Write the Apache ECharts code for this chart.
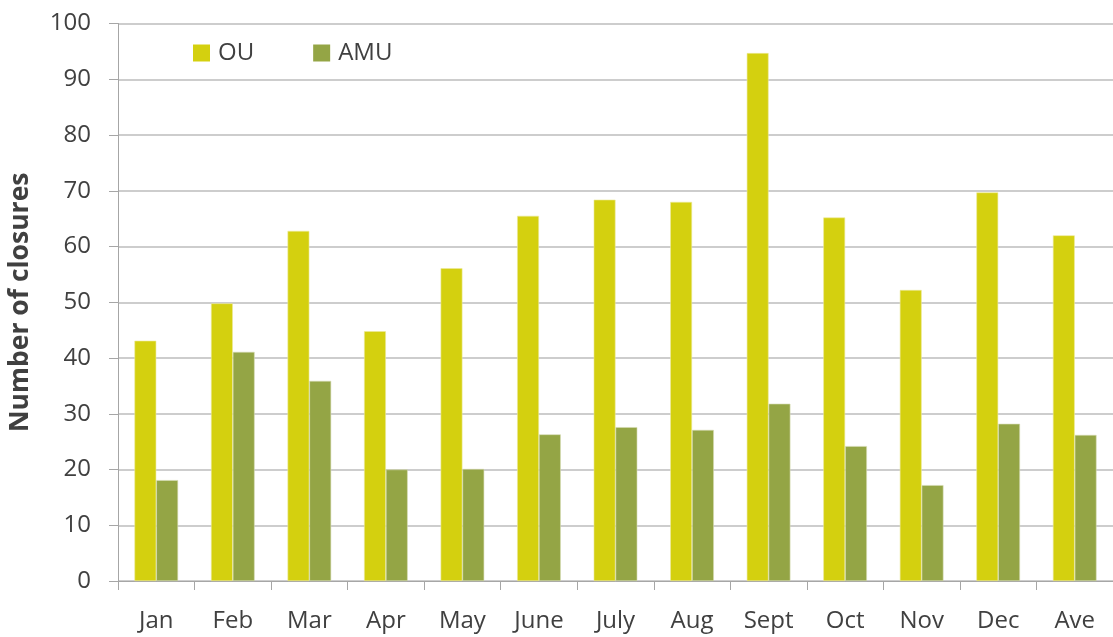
<!DOCTYPE html>
<html>
<head>
<meta charset="utf-8">
<script src="https://cdn.jsdelivr.net/npm/echarts@6/dist/echarts.min.js"></script>
<style>
  html, body { margin: 0; padding: 0; background: #fff; }
  #chart { width: 1113px; height: 637px; }
</style>
</head>
<body>
<div id="chart"></div>
<script>
// months plus yearly average
var months = ['Jan', 'Feb', 'Mar', 'Apr', 'May', 'June', 'July', 'Aug', 'Sept', 'Oct', 'Nov', 'Dec', 'Ave'];
var ouValues = [43.1, 49.8, 62.8, 44.8, 56.1, 65.5, 68.4, 68.0, 94.7, 65.2, 52.2, 69.7, 62.0];
var amuValues = [18.1, 41.1, 35.9, 20.0, 20.1, 26.3, 27.6, 27.1, 31.8, 24.2, 17.2, 28.2, 26.2];
var yTicks = [0, 10, 20, 30, 40, 50, 60, 70, 80, 90, 100];

var FONT = '"Open Sans", "Noto Sans", sans-serif';
var TEXT = '#404040';

var chart = echarts.init(document.getElementById('chart'));
chart.setOption({
    animation: false,
    grid: {
        left: 118,
        right: 0,
        top: 23.5,
        bottom: 56,
        containLabel: false,
        outerBoundsMode: 'none'
    },
    legend: {
        data: ['OU', 'AMU'],
        left: 188,
        top: 36,
        itemWidth: 17,
        itemHeight: 17,
        itemGap: 59,
        icon: 'rect',
        itemStyle: { borderWidth: 0 },
        textStyle: { fontFamily: FONT, fontSize: 24, color: TEXT, padding: [0, 0, 0, 3] }
    },
    xAxis: {
        type: 'category',
        data: months,
        axisLine: { lineStyle: { color: '#a6a6a6', width: 1 } },
        axisTick: { show: true, length: 9, lineStyle: { color: '#a6a6a6' } },
        axisLabel: { fontFamily: FONT, fontSize: 24, color: TEXT, margin: 28 }
    },
    yAxis: {
        type: 'value',
        min: yTicks[0],
        max: yTicks[yTicks.length - 1],
        interval: 10,
        name: 'Number of closures',
        nameLocation: 'middle',
        nameGap: 84,
        nameTextStyle: { fontFamily: FONT, fontSize: 26.5, fontWeight: 'bold', color: TEXT },
        axisLine: { show: true, lineStyle: { color: '#a6a6a6', width: 1 } },
        axisTick: { show: true, length: 9, lineStyle: { color: '#a6a6a6' } },
        splitLine: { lineStyle: { color: '#bdbdbd', width: 1.5 } },
        axisLabel: { fontFamily: FONT, fontSize: 24, color: TEXT, margin: 27 }
    },
    series: [
        {
            name: 'OU',
            type: 'bar',
            data: ouValues,
            barGap: '0%',
            barCategoryGap: '43%',
            itemStyle: { color: '#d4d00f', borderColor: '#ecea9a', borderWidth: 0.6 }
        },
        {
            name: 'AMU',
            type: 'bar',
            data: amuValues,
            itemStyle: { color: '#94a545', borderColor: '#d6dcb5', borderWidth: 0.6 }
        }
    ]
});
</script>
</body>
</html>
